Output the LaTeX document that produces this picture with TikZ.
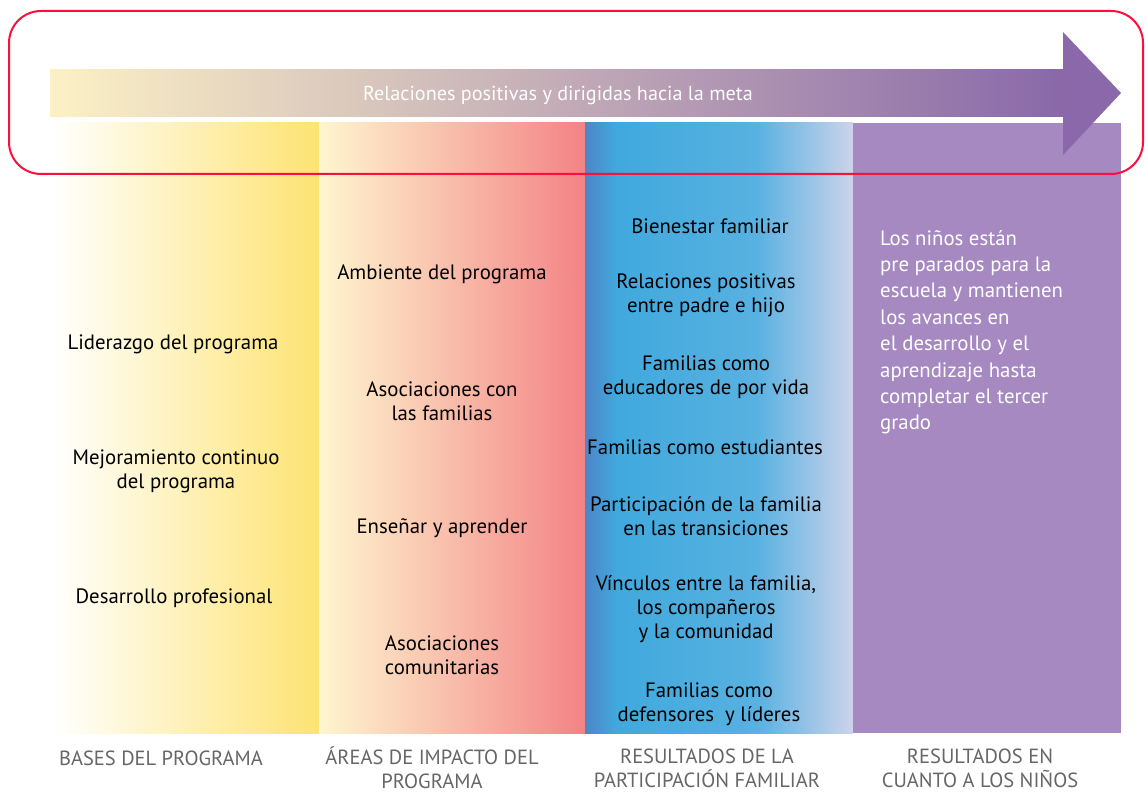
\documentclass[tikz,border=0pt]{standalone}
\usepackage{fontspec}
\setmainfont{PT Sans}

\definecolor{baseyellow}{HTML}{FDE372}
\definecolor{impactcream}{HTML}{FEF6CF}
\definecolor{impactpink}{HTML}{F38385}
\definecolor{famblue}{HTML}{4D86C7}
\definecolor{famsky}{HTML}{40A9DE}
\definecolor{famsky2}{HTML}{58B1E1}
\definecolor{famlight}{HTML}{CDD3EA}
\definecolor{kidpurple}{HTML}{A689C1}
\definecolor{arrowcream}{HTML}{FCF1C5}
\definecolor{arrowpurple}{HTML}{8A68A9}
\definecolor{goalred}{HTML}{FA0F3E}
\definecolor{capgray}{HTML}{666666}

\pgfdeclarehorizontalshading{familyshade}{100bp}{color(0bp)=(famblue); color(25bp)=(famblue); color(31bp)=(famsky); color(57bp)=(famsky2); color(75bp)=(famlight); color(100bp)=(famlight)}

\begin{document}
\begin{tikzpicture}[x=1pt,y=-1pt,
    item/.style={font=\fontsize{20.8}{24}\selectfont, align=center, inner sep=0pt},
    caption/.style={font=\fontsize{20.5}{24}\selectfont, text=capgray, align=center, inner sep=0pt}]
    \useasboundingbox (0,0) rectangle (1147,794);

    % Columns
    \shade[left color=white, right color=baseyellow] (52,123) rectangle (319,733);
    \shade[left color=impactcream, right color=impactpink] (319,123) rectangle (585,733);
    \shade[shading=familyshade] (585,123) rectangle (853,733);
    \fill[kidpurple] (853,123) rectangle (1121,733);

    % Arrow
    \shade[left color=arrowcream, right color=arrowpurple] (50,70) rectangle (1064,117);
    \fill[arrowpurple] (1063,32) -- (1121,93) -- (1063,155) -- cycle;
    \node[font=\fontsize{20.2}{24}\selectfont, text=white, inner sep=0pt] (meta) at (558,95) {Relaciones positivas y dirigidas hacia la meta};

    % Bases del programa
    \node[item] (liderazgo) at (173,344) {Liderazgo del programa};
    \node[item] (mejora) at (176,471) {Mejoramiento continuo\\del programa};
    \node[item] (desarrollo) at (174,598) {Desarrollo profesional};

    % Areas de impacto
    \node[item] (ambiente) at (442,274) {Ambiente del programa};
    \node[item] (asocfam) at (442,401) {Asociaciones con\\las familias};
    \node[item] (ensenar) at (442,528) {Enseñar y aprender};
    \node[item] (asoccom) at (442,655) {Asociaciones\\comunitarias};

    % Participacion familiar
    \node[item] (bienestar) at (710,226) {Bienestar familiar};
    \node[item] (relaciones) at (706,295) {Relaciones positivas\\entre padre e hijo};
    \node[item] (educadores) at (706,377) {Familias como\\educadores de por vida};
    \node[item] (estudiantes) at (705,447) {Familias como estudiantes};
    \node[item] (transiciones) at (706,516) {Participación de la familia\\en las transiciones};
    \node[item] (vinculos) at (706,609) {Vínculos entre la familia,\\los compañeros\\y la comunidad};
    \node[item] (defensores) at (709,704) {Familias como\\defensores\ \ y líderes};

    % Resultados en los ninos
    \node[item, align=left, anchor=north west, text=white, font=\fontsize{20.8}{26.4}\selectfont] (ninos) at (880,230) {Los niños están\\pre parados para la\\escuela y mantienen\\los avances en\\el desarrollo y el\\aprendizaje hasta\\completar el tercer\\grado};

    % Captions
    \node[caption] (capbases) at (161,758) {BASES DEL PROGRAMA};
    \node[caption] (capareas) at (432,768) {ÁREAS DE IMPACTO DEL\\PROGRAMA};
    \node[caption] (capfam) at (707,768) {RESULTADOS DE LA\\PARTICIPACIÓN FAMILIAR};
    \node[caption] (capninos) at (980,768) {RESULTADOS EN\\CUANTO A LOS NIÑOS};

    % Frame round the arrow
    \draw[goalred, line width=2pt, rounded corners=32pt] (9,11) rectangle (1143,174);
\end{tikzpicture}
\end{document}
